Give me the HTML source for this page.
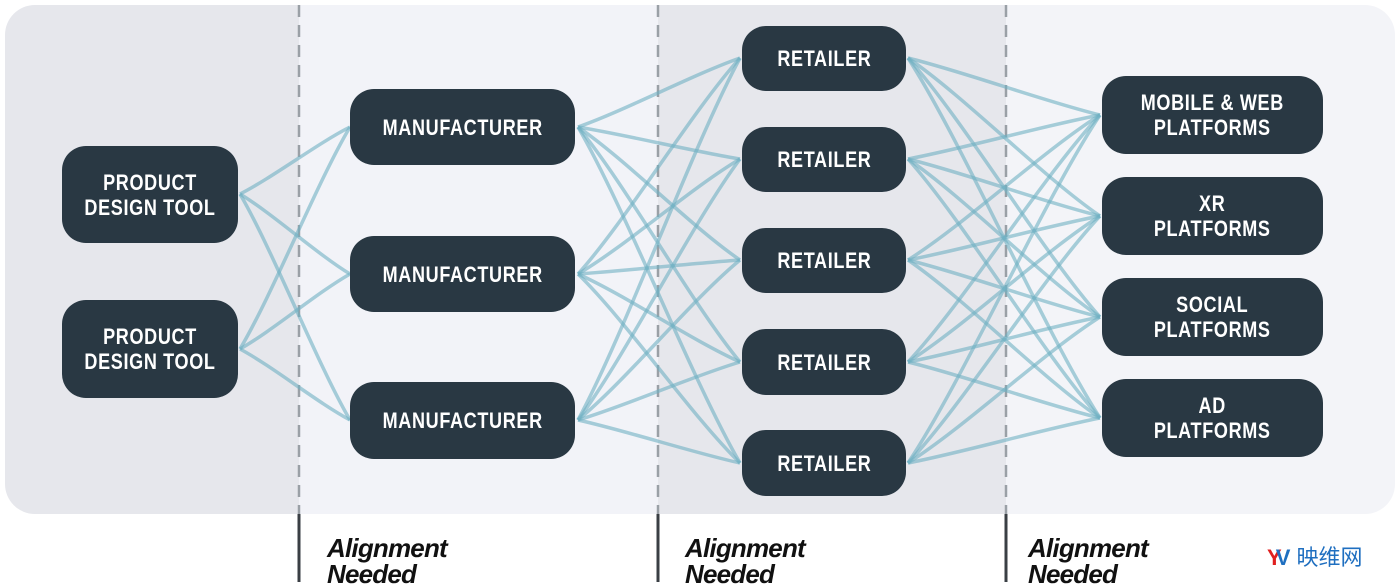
<!DOCTYPE html>
<html><head><meta charset="utf-8"><style>
html,body{margin:0;padding:0;background:#fff;}
#wrap{position:relative;width:1400px;height:587px;overflow:hidden;font-family:"Liberation Sans",sans-serif;}
.node{position:absolute;background:#293843;color:#fff;border-radius:24px;display:flex;align-items:center;justify-content:center;text-align:center;font-weight:bold;font-size:22px;line-height:25px;letter-spacing:0.8px;}
.node span{display:inline-block;transform:scaleX(0.82);white-space:nowrap;}
.al{position:absolute;font-family:"Liberation Sans",sans-serif;font-style:italic;font-weight:bold;font-size:26px;line-height:26px;color:#111;letter-spacing:-0.8px;}
</style></head><body><div id="wrap">
<svg width="1400" height="587" style="position:absolute;left:0;top:0">
<defs><clipPath id="cp"><rect x="5" y="5" width="1390" height="509" rx="30"/></clipPath></defs>
<g clip-path="url(#cp)">
<rect x="0" y="0" width="299" height="520" fill="#e6e7ec"/>
<rect x="299" y="0" width="359" height="520" fill="#f2f3f8"/>
<rect x="658" y="0" width="348" height="520" fill="#e6e7ec"/>
<rect x="1006" y="0" width="400" height="520" fill="#f3f4f8"/>
</g>
<g stroke="#9aa0a6" stroke-width="2.5" stroke-dasharray="12 8">
<line x1="299" y1="5" x2="299" y2="514"/><line x1="658" y1="5" x2="658" y2="514"/><line x1="1006" y1="5" x2="1006" y2="514"/>
</g>
<g stroke="#3a3f44" stroke-width="3">
<line x1="299" y1="514" x2="299" y2="582"/><line x1="658" y1="514" x2="658" y2="582"/><line x1="1006" y1="514" x2="1006" y2="582"/>
</g>
<g id="lines" fill="none" stroke="#6fb0c3" stroke-opacity="0.6" stroke-width="3.5"></g>
</svg>
<div class="node" style="left:62px;top:146px;width:176px;height:97px"><span>PRODUCT<br>DESIGN TOOL</span></div>
<div class="node" style="left:62px;top:300px;width:176px;height:98px"><span>PRODUCT<br>DESIGN TOOL</span></div>
<div class="node" style="left:350px;top:89px;width:225px;height:76px"><span>MANUFACTURER</span></div>
<div class="node" style="left:350px;top:236px;width:225px;height:76px"><span>MANUFACTURER</span></div>
<div class="node" style="left:350px;top:382px;width:225px;height:77px"><span>MANUFACTURER</span></div>
<div class="node" style="left:742px;top:26px;width:164px;height:65px"><span>RETAILER</span></div>
<div class="node" style="left:742px;top:127px;width:164px;height:65px"><span>RETAILER</span></div>
<div class="node" style="left:742px;top:228px;width:164px;height:65px"><span>RETAILER</span></div>
<div class="node" style="left:742px;top:329px;width:164px;height:66px"><span>RETAILER</span></div>
<div class="node" style="left:742px;top:430px;width:164px;height:66px"><span>RETAILER</span></div>
<div class="node" style="left:1102px;top:76px;width:221px;height:78px"><span>MOBILE &amp; WEB<br>PLATFORMS</span></div>
<div class="node" style="left:1102px;top:177px;width:221px;height:78px"><span>XR<br>PLATFORMS</span></div>
<div class="node" style="left:1102px;top:278px;width:221px;height:78px"><span>SOCIAL<br>PLATFORMS</span></div>
<div class="node" style="left:1102px;top:379px;width:221px;height:78px"><span>AD<br>PLATFORMS</span></div>
<div class="al" style="left:327px;top:535px">Alignment<br>Needed</div>
<div class="al" style="left:685px;top:535px">Alignment<br>Needed</div>
<div class="al" style="left:1028px;top:535px">Alignment<br>Needed</div>
<div style="position:absolute;left:1267px;top:540px;font-size:22px;color:#1f6fc0;font-family:'Liberation Sans','Noto Sans CJK SC',sans-serif;"><b style="color:#e02020">Y</b><b style="color:#1f6fc0;margin-left:-6px">V</b> 映维网</div>
</div>
<script>
var g=document.getElementById('lines'),s='';
function con(xa,ya,xb,yb){ya.forEach(function(a){yb.forEach(function(b){var dx=xb-xa,dy=b-a;
s+='<path d="M'+xa+' '+a+' C'+(xa+dx*0.3)+' '+(a+dy*0.25)+' '+(xb-dx*0.3)+' '+(b-dy*0.25)+' '+xb+' '+b+'"/>';});});}
con(240,[194,349],350,[127,274,420]);
con(578,[127,274,420],740,[58,159,260,362,463]);
con(908,[58,159,260,362,463],1100,[115,216,317,418]);
g.innerHTML=s;
</script>
</body></html>
